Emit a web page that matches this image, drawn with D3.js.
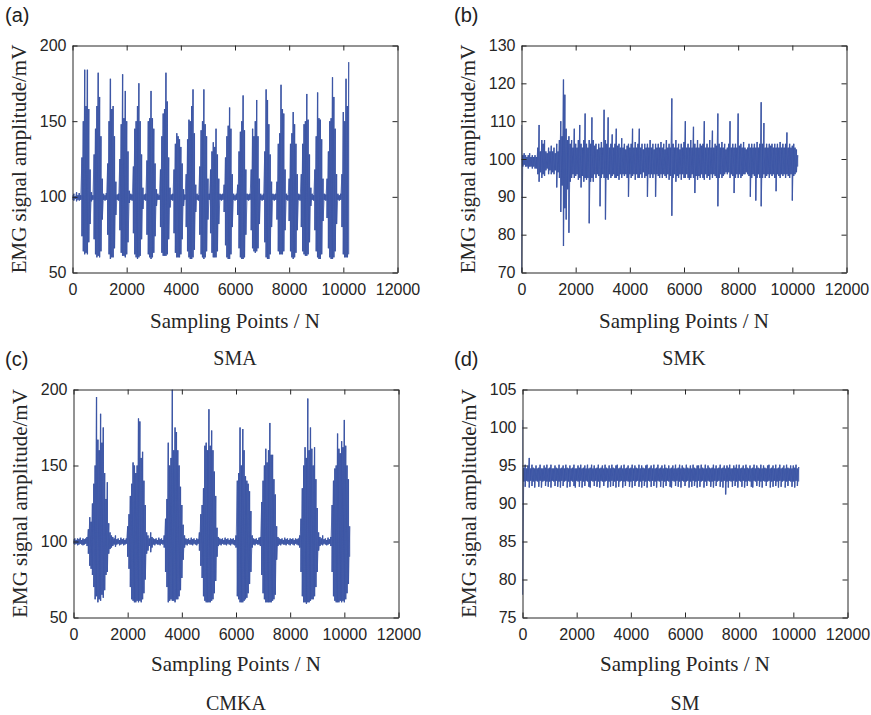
<!DOCTYPE html>
<html>
<head>
<meta charset="utf-8">
<script src="https://cdn.jsdelivr.net/npm/d3@7"></script>
<style>
  body { margin: 0; background: #fff; }
  .tick text { font-family: "Liberation Sans", Arial, sans-serif; font-size: 16px; fill: #262626; }
  .tick line, .domain { stroke: #262626; stroke-width: 1; }
  .serif { font-family: "Liberation Serif", "Times New Roman", serif; fill: #262626; }
  .letter { font-family: "Liberation Sans", Arial, sans-serif; font-size: 20px; fill: #222; }
</style>
</head>
<body>
<svg id="fig" width="871" height="715"></svg>
<script>
// Sampling points represented by each envelope bin (max / min of the raw EMG trace)
const binStep = 50;
const xTicks = [0, 2000, 4000, 6000, 8000, 10000, 12000];
const ticksSMA = [50, 100, 150, 200];
const ticksSMK = [70, 80, 90, 100, 110, 120, 130];
const ticksCMKA = [50, 100, 150, 200];
const ticksSM = [75, 80, 85, 90, 95, 100, 105];
const panelNames = ["SMA", "SMK", "CMKA", "SM"];
const panelLetters = ["(a)", "(b)", "(c)", "(d)"];

// SMA: per-bin maximum and minimum amplitude (mV)
const smaHi = [
  101, 102, 100.5, 103, 101, 102.5, 101, 126, 150, 184,
  160, 184, 158, 118, 103, 101, 128, 145, 160, 182,
  166, 140, 112, 102, 101, 102.5, 122, 150, 178, 158,
  160, 140, 110, 101.5, 102, 125, 148, 181, 152, 170,
  150, 130, 104, 102, 101.5, 120, 145, 150, 160, 175,
  150, 128, 106, 101.5, 102, 124, 150, 152, 170, 152,
  145, 122, 105, 102, 101, 118, 140, 155, 158, 182,
  163, 126, 106, 101.5, 102, 118, 135, 142, 140, 138,
  133, 122, 105, 101.5, 115, 138, 151, 150, 160, 171,
  142, 108, 102, 101, 120, 144, 150, 171, 148, 140,
  112, 102, 118, 130, 136, 133, 145, 128, 112, 102,
  101.5, 102, 108, 126, 140, 147, 159, 145, 115, 102,
  101, 102, 108, 130, 143, 150, 167, 144, 118, 102,
  101.5, 102, 118, 145, 140, 150, 164, 140, 112, 102,
  101, 102, 130, 171, 164, 148, 128, 110, 102, 101.5,
  102, 110, 135, 142, 174, 158, 155, 118, 102, 101,
  112, 135, 142, 156, 148, 135, 115, 102, 101.5, 115,
  135, 148, 150, 168, 151, 128, 106, 102, 101, 118,
  140, 169, 152, 151, 138, 112, 102, 101.5, 112, 130,
  150, 152, 179, 166, 145, 115, 102, 101, 102, 115,
  156, 150, 178, 160, 189
];
const smaLo = [
  98, 97.5, 98.5, 97, 98, 97.5, 98, 74, 64, 62,
  63, 62, 70, 82, 97, 98, 72, 62, 60, 61,
  60, 64, 85, 98, 97.5, 98, 75, 62, 59, 60,
  60, 66, 88, 98, 97.5, 78, 63, 61, 61, 60,
  62, 70, 96, 98, 97.5, 76, 62, 60, 59, 60,
  61, 72, 92, 98, 97.5, 75, 62, 60, 59, 60,
  63, 74, 94, 98, 98, 80, 63, 61, 61, 61,
  62, 72, 93, 98, 97.5, 76, 63, 60, 60, 60,
  62, 72, 94, 98, 80, 64, 60, 59, 59, 60,
  65, 90, 98, 97.5, 75, 62, 60, 59, 60, 64,
  85, 98, 76, 63, 60, 60, 60, 64, 82, 98,
  97.5, 98, 90, 68, 60, 59, 59, 62, 80, 98,
  97.5, 98, 88, 66, 60, 59, 59, 60, 75, 98,
  97.5, 98, 78, 66, 64, 63, 64, 66, 82, 98,
  97.5, 98, 70, 60, 59, 59, 62, 80, 98, 97.5,
  98, 85, 64, 62, 62, 62, 64, 78, 98, 97.5,
  84, 64, 60, 59, 60, 63, 78, 98, 97.5, 80,
  64, 62, 61, 61, 62, 70, 94, 98, 97.5, 78,
  64, 60, 59, 59, 62, 84, 98, 97.5, 86, 66,
  60, 59, 59, 60, 64, 82, 98, 97.5, 98, 80,
  62, 60, 60, 60, 62
];

// SMK
const smkHi = [
  109, 101, 101.5, 101, 100.5, 101, 101.5, 100.5, 101, 100.5,
  101, 100.5, 103, 109, 102, 105, 104, 105, 102, 101.5,
  103, 102, 103.5, 102, 103, 101.5, 104, 102, 105, 110,
  106, 121, 117, 108, 105, 106, 104, 105, 103, 108,
  104, 103, 105, 109, 104, 103, 105, 112, 104, 103,
  105, 104, 111, 105, 103.5, 104, 102.5, 104, 103, 104.5,
  103, 113, 105, 104, 111, 103, 104, 106.5, 103, 104,
  108, 103.5, 104, 103, 105.5, 103, 104, 102.5, 103.5, 104,
  103, 104, 108, 103, 104.5, 103, 104, 108, 103, 104,
  102.5, 104, 103, 104, 103, 105, 103, 104, 102.5, 104,
  103, 104, 103, 104.5, 103, 104, 102.5, 105, 103, 104,
  103, 116, 104, 103, 105, 103, 104, 102.5, 104, 103,
  104.5, 110, 103, 104, 103, 105, 103, 108.5, 104, 103,
  105, 103, 104, 103.5, 104, 110, 103, 104, 103, 105,
  103, 107.5, 103, 104, 103.5, 112, 104, 103, 104.5, 103,
  104, 102.5, 103, 104, 110, 103, 104, 103, 104, 103,
  112, 103.5, 104, 103, 104.5, 103, 102.5, 103, 104, 103,
  104, 103, 104, 103, 104.5, 103, 104, 115, 104, 109.5,
  103, 104, 103, 104, 103.5, 104, 103, 104, 103, 104,
  103, 104.5, 103, 104, 103, 104, 107, 103, 104, 103,
  103.5, 104, 103, 102.5, 101
];
const smkLo = [
  70, 98, 98.5, 98, 98, 97.5, 98, 98, 97.5, 98,
  97.5, 97.5, 96, 94, 96.5, 95, 96, 95.5, 97, 97.5,
  96, 97, 96, 96.5, 96, 97, 92.5, 96.5, 95, 86,
  93, 77, 87, 84, 92, 80.5, 94, 95, 96, 95,
  95.5, 96, 94.5, 95, 92.5, 95.5, 94, 95, 94.5, 95,
  83, 94, 95, 94, 96, 95, 96, 95.5, 87.5, 95,
  96, 95, 84, 95, 94.5, 96, 95, 95.5, 96, 95,
  95, 95.5, 94.5, 96, 95, 96, 95.5, 96, 95, 90,
  96, 95, 95.5, 96, 94.5, 96, 95, 95, 96, 95,
  96.5, 95, 95.5, 90, 96, 95, 96, 95, 96, 90,
  96, 95.5, 95, 96, 95, 96, 95.5, 95, 96, 94.5,
  95.5, 85, 95, 96, 94, 95.5, 95, 96, 94.5, 96,
  95, 95, 96, 95, 94.5, 95, 96, 95, 91, 95.5,
  94.5, 95.5, 95, 96, 95, 94.5, 96, 95, 95.5, 94.5,
  96, 95, 96, 95.5, 95, 87.5, 95, 96, 95, 95.5,
  96, 96.5, 96, 96.5, 95, 96, 95.5, 91, 95, 96,
  95, 96, 95, 95.5, 96, 96, 96.5, 96, 95.5, 90,
  95, 96, 95.5, 89, 95, 96, 95, 87.5, 95, 96,
  95, 95.5, 96, 95, 96, 95.5, 96, 95, 91.5, 96,
  95.5, 95, 96, 95.5, 96, 95, 96, 95.5, 95, 96,
  89, 95.5, 96, 96.5, 98
];

// CMKA
const cmkaHi = [
  101.5, 102, 101, 102, 101.5, 102.5, 101, 102, 101.5, 102,
  103, 108, 116, 113, 125, 138, 150, 195, 167, 160,
  184, 165, 175, 145, 128, 139, 112, 106, 104, 103,
  102, 104, 101.5, 102, 101, 102.5, 101.5, 102, 101, 102,
  110, 118, 130, 138, 152, 150, 145, 150, 181, 179,
  155, 159, 140, 124, 106, 104, 102, 106, 103, 102,
  101.5, 102, 101, 102.5, 101.5, 102, 101, 104, 115, 128,
  165, 150, 155, 200, 160, 175, 172, 160, 150, 136,
  124, 111, 104, 102, 101.5, 102, 101, 102.5, 101.5, 102,
  101, 102, 101.5, 106, 118, 124, 135, 163, 165, 160,
  187, 163, 173, 160, 146, 130, 109, 103, 102, 101.5,
  102, 101, 102.5, 101.5, 102, 101, 102, 101.5, 102, 101,
  104, 140, 145, 175, 150, 174, 160, 143, 140, 138,
  133, 120, 104, 102, 101.5, 102, 101, 102.5, 103, 126,
  140, 150, 161, 152, 160, 178, 157, 157, 141, 131,
  110, 103, 102, 101.5, 102, 101, 102.5, 101.5, 102, 101,
  102, 101.5, 102, 101, 102, 101.5, 102, 104, 115, 135,
  150, 162, 155, 194, 160, 175, 161, 150, 162, 141,
  122, 106, 103, 102, 104, 101.5, 102, 101, 102.5, 101.5,
  103, 124, 140, 148, 150, 171, 161, 158, 166, 162,
  180, 163, 150, 141, 110
];
const cmkaLo = [
  98.5, 98, 98.5, 97.5, 98, 98.5, 98, 97.5, 98, 98.5,
  97, 92, 84, 82, 78, 70, 62, 64, 60, 62,
  61, 65, 63, 68, 78, 80, 92, 95, 96, 97,
  98, 96.5, 98, 98.5, 97.5, 98, 98.5, 97.5, 98, 98.5,
  90, 82, 70, 62, 61, 60, 60, 61, 60, 61,
  60, 62, 66, 75, 92, 94, 97, 93, 96, 98,
  97.5, 98.5, 98, 98, 97.5, 98.5, 98, 96, 80, 70,
  60, 61, 62, 61, 61, 60, 62, 62, 64, 68,
  76, 88, 96, 98, 97.5, 98.5, 98, 98, 97.5, 98.5,
  98, 97.5, 98.5, 94, 84, 76, 64, 61, 60, 60,
  60, 60, 61, 62, 66, 74, 90, 97, 98, 97.5,
  98.5, 98, 98, 97.5, 98.5, 98, 97.5, 98.5, 98, 97.5,
  96, 64, 62, 60, 60, 60, 61, 62, 63, 66,
  72, 80, 96, 98, 97.5, 98.5, 98, 98, 97, 78,
  66, 62, 60, 60, 60, 60, 60, 61, 62, 65,
  88, 97, 98, 97.5, 98.5, 98, 98, 97.5, 98.5, 98,
  97.5, 98.5, 98, 97.5, 98.5, 98, 97.5, 96, 80, 64,
  60, 60, 59, 60, 60, 61, 62, 62, 64, 70,
  80, 94, 97, 98, 97.5, 98.5, 98, 97.5, 98, 98.5,
  97, 80, 64, 61, 60, 60, 60, 61, 60, 61,
  60, 62, 66, 72, 90
];

// SM
const smHi = [
  101, 94.7, 95.1, 94.6, 95, 96, 94.6, 95.1, 94.7, 94.6,
  95, 94.6, 94.7, 95.1, 94.6, 94.6, 95, 94.7, 95.1, 94.6,
  94.7, 95.1, 94.6, 94.6, 95, 94.7, 94.6, 95.1, 94.6, 94.7,
  95, 94.6, 95.1, 94.7, 94.6, 95, 94.6, 94.7, 95.1, 94.6,
  94.6, 95, 94.7, 95.1, 94.6, 94.7, 95, 94.6, 95.1, 94.6,
  94.7, 95.1, 94.6, 95, 94.6, 94.7, 95.1, 94.6, 94.7, 95,
  94.6, 95.1, 94.7, 94.6, 95, 94.6, 95.1, 94.7, 94.6, 95,
  95.1, 94.6, 94.7, 95, 94.6, 95.1, 94.6, 94.7, 95, 94.6,
  94.7, 95.1, 94.6, 95, 94.7, 94.6, 95.1, 94.6, 95, 94.7,
  94.6, 95, 95.1, 94.6, 94.7, 95, 94.6, 95.1, 94.6, 94.7,
  95.1, 94.6, 94.7, 95, 94.6, 95.1, 94.7, 94.6, 95, 94.6,
  94.7, 95, 94.6, 95.1, 94.6, 94.7, 95.1, 94.6, 95, 94.7,
  94.6, 95.1, 94.7, 94.6, 95, 94.6, 95.1, 94.7, 94.6, 95,
  95, 94.6, 95.1, 94.7, 94.6, 95.1, 94.6, 95, 94.7, 94.6,
  94.7, 95.1, 94.6, 95, 94.6, 94.7, 95.1, 94.6, 94.7, 95,
  94.6, 95, 94.7, 95.1, 94.6, 94.6, 95, 94.7, 95.1, 94.6,
  95.1, 94.6, 94.7, 95, 94.6, 95.1, 94.7, 94.6, 95, 94.6,
  94.7, 95.1, 94.6, 95, 94.7, 94.6, 95.1, 94.6, 95, 94.7,
  94.6, 95, 95.1, 94.6, 94.7, 95, 94.6, 95.1, 94.6, 94.7,
  95.1, 94.6, 94.7, 95, 94.6, 95.1, 94.7, 94.6, 95, 94.6,
  95, 94.7, 95.1, 94.6, 94.8
];
const smLo = [
  78, 92.9, 92.2, 93, 92.9, 92.1, 93, 92.3, 92.9, 92.1,
  93, 92.9, 92.2, 93, 92.1, 92.9, 93, 92.3, 92.9, 92.2,
  92.9, 92.1, 93, 92.9, 92.3, 93, 92.2, 92.9, 92.1, 93,
  92.3, 92.9, 93, 92.1, 92.9, 92.2, 93, 92.9, 92.3, 92.1,
  93, 92.9, 92.2, 93, 92.1, 92.9, 92.3, 93, 92.9, 92.2,
  92.1, 93, 92.9, 92.3, 93, 92.2, 92.9, 92.1, 93, 92.9,
  92.3, 92.9, 93, 92.1, 92.9, 92.2, 93, 92.3, 92.9, 92.1,
  93, 92.2, 92.9, 93, 92.1, 92.9, 92.3, 93, 92.9, 92.2,
  92.9, 92.1, 93, 92.3, 92.9, 93, 92.2, 92.9, 92.1, 93,
  92.3, 92.9, 92.1, 93, 92.9, 92.2, 93, 92.3, 92.9, 92.1,
  93, 92.9, 92.2, 93, 92.1, 92.9, 92.3, 93, 92.9, 92.2,
  92.1, 93, 92.9, 92.3, 93, 92.2, 92.9, 92.1, 93, 92.9,
  92.3, 92.9, 93, 92.1, 92.9, 92.2, 93, 92.3, 92.9, 92.1,
  93, 92.2, 92.9, 93, 92.1, 92.9, 92.3, 93, 92.9, 92.2,
  92.9, 92.1, 93, 92.3, 92.9, 93, 92.2, 92.9, 92.1, 93,
  91.2, 92.9, 92.1, 93, 92.9, 92.2, 93, 92.3, 92.9, 92.1,
  93, 92.9, 92.2, 93, 92.1, 92.9, 92.3, 93, 92.9, 92.2,
  92.1, 93, 92.9, 92.3, 93, 92.2, 92.9, 92.1, 93, 92.9,
  92.3, 92.9, 93, 92.1, 92.9, 92.2, 93, 92.3, 92.9, 92.1,
  93, 92.2, 92.9, 93, 92.1, 92.9, 92.3, 93, 92.9, 92.2,
  92.9, 92.1, 93, 92.3, 92.9
];

const panels = [
  { hi: smaHi,  lo: smaLo,  ticks: ticksSMA,  left: 72.5,  top: 45.5,  bottom: 272.5, titleDy: 55.5 },
  { hi: smkHi,  lo: smkLo,  ticks: ticksSMK,  left: 521.5, top: 45.5,  bottom: 272.5, titleDy: 55.5 },
  { hi: cmkaHi, lo: cmkaLo, ticks: ticksCMKA, left: 73.5,  top: 389.5, bottom: 617.5, titleDy: 53 },
  { hi: smHi,   lo: smLo,   ticks: ticksSM,   left: 522.5, top: 389.5, bottom: 617.5, titleDy: 53 }
];
const plotW = 325;
const traceColor = "#3953a4";

const svg = d3.select("#fig");
const defs = svg.append("defs");

panels.forEach((p, k) => {
  const g = svg.append("g");
  const x = d3.scaleLinear().domain([0, 12000]).range([p.left, p.left + plotW]);
  const y = d3.scaleLinear().domain(d3.extent(p.ticks)).range([p.bottom, p.top]);

  defs.append("clipPath").attr("id", "clip" + k)
    .append("rect")
    .attr("x", p.left).attr("y", p.top)
    .attr("width", plotW).attr("height", p.bottom - p.top);

  const bins = p.hi.map((h, i) => ({ n: i * binStep, hi: h, lo: p.lo[i] }));
  const trace = g.append("g").attr("clip-path", `url(#clip${k})`);

  // filled min/max envelope, one column per bin
  const band = d3.area().curve(d3.curveStep)
    .x(d => x(d.n)).y0(d => y(d.lo)).y1(d => y(d.hi));
  trace.append("path")
    .attr("d", band(bins))
    .attr("fill", traceColor)
    .attr("fill-opacity", 0.85);

  // the trace itself, swinging between each bin's max and min
  const pts = [];
  bins.forEach(b => { pts.push([b.n, b.hi]); pts.push([b.n, b.lo]); });
  const line = d3.line().x(d => x(d[0])).y(d => y(d[1]));
  trace.append("path")
    .attr("d", line(pts))
    .attr("fill", "none")
    .attr("stroke", traceColor)
    .attr("stroke-width", 0.7)
    .attr("stroke-linejoin", "bevel");

  // box axes with inward ticks
  g.append("g").attr("transform", `translate(0,${p.bottom})`)
    .call(d3.axisBottom(x).tickValues(xTicks).tickFormat(d3.format("d"))
      .tickSizeInner(-5).tickSizeOuter(0).tickPadding(11));
  g.append("g").attr("transform", `translate(0,${p.top})`)
    .call(d3.axisTop(x).tickValues(xTicks).tickFormat("")
      .tickSizeInner(-5).tickSizeOuter(0));
  g.append("g").attr("transform", `translate(${p.left},0)`)
    .call(d3.axisLeft(y).tickValues(p.ticks).tickFormat(d3.format("d"))
      .tickSizeInner(-5).tickSizeOuter(0).tickPadding(6));
  g.append("g").attr("transform", `translate(${p.left + plotW},0)`)
    .call(d3.axisRight(y).tickValues(p.ticks).tickFormat("")
      .tickSizeInner(-5).tickSizeOuter(0));
  g.selectAll(".domain").attr("fill", "none");

  const cx = p.left + plotW / 2;
  const cy = (p.top + p.bottom) / 2;
  g.append("text").attr("class", "serif")
    .attr("transform", `translate(${p.left - 46.5},${cy}) rotate(-90)`)
    .attr("text-anchor", "middle")
    .style("font-size", "21px")
    .text("EMG signal amplitude/mV");
  g.append("text").attr("class", "serif")
    .attr("x", cx).attr("y", p.bottom + p.titleDy)
    .attr("text-anchor", "middle")
    .style("font-size", "21px")
    .text("Sampling Points / N");
  g.append("text").attr("class", "serif")
    .attr("x", cx).attr("y", p.bottom + 92.5)
    .attr("text-anchor", "middle")
    .style("font-size", "20px")
    .text(panelNames[k]);
  g.append("text").attr("class", "letter")
    .attr("x", k % 2 === 0 ? 5 : 454)
    .attr("y", p.top - 24)
    .text(panelLetters[k]);
});
</script>
</body>
</html>
